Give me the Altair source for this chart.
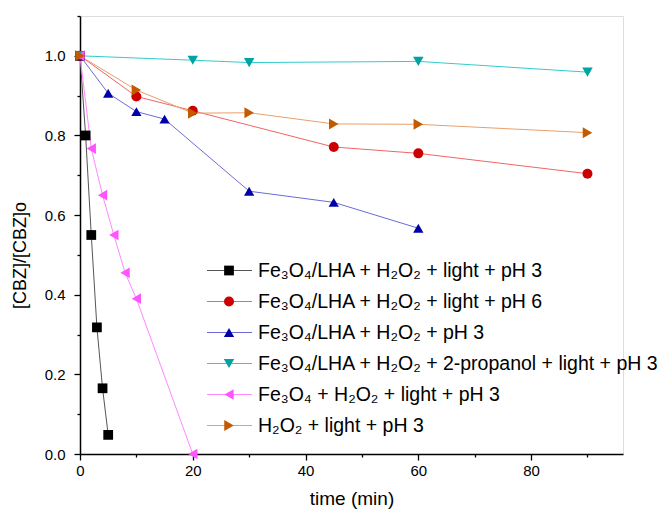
import altair as alt
import pandas as pd

names = ["s1", "s2", "s3", "s4", "s5", "s6"]
labels = [
    "Fe₃O₄/LHA + H₂O₂ + light + pH 3",
    "Fe₃O₄/LHA + H₂O₂ + light + pH 6",
    "Fe₃O₄/LHA + H₂O₂ + pH 3",
    "Fe₃O₄/LHA + H₂O₂ + 2-propanol + light + pH 3",
    "Fe₃O₄ + H₂O₂ + light + pH 3",
    "H₂O₂ + light + pH 3",
]

t_black = [0, 1, 2, 3, 4, 5]
y_black = [1.0, 0.80, 0.55, 0.318, 0.165, 0.048]
t_red = [0, 10, 20, 45, 60, 90]
y_red = [1.0, 0.898, 0.862, 0.771, 0.755, 0.704]
t_blue = [0, 5, 10, 15, 30, 45, 60]
y_blue = [1.0, 0.906, 0.860, 0.841, 0.660, 0.632, 0.567]
t_cyan = [0, 20, 30, 60, 90]
y_cyan = [1.0, 0.989, 0.983, 0.986, 0.959]
t_pink = [0, 2, 4, 6, 8, 10, 20]
y_pink = [1.0, 0.767, 0.650, 0.550, 0.455, 0.390, 0.0]
t_orange = [0, 10, 20, 30, 45, 60, 90]
y_orange = [1.0, 0.914, 0.856, 0.857, 0.829, 0.828, 0.807]

marker_colors = ["#000000", "#CC0000", "#0000A8", "#00A3A3", "#FF55FF", "#C45A00"]
line_colors = ["#555555", "#EE6666", "#6B6BD6", "#33CCCC", "#FF88FF", "#E8A06A"]
shapes = ["square", "circle", "triangle-up", "triangle-down", "triangle-left", "triangle-right"]
sizes = [95, 120, 165, 165, 165, 165]

x_major = [0, 20, 40, 60, 80]
x_minor = [10, 30, 50, 70, 90]
y_major = [0.0, 0.2, 0.4, 0.6, 0.8, 1.0]
y_minor = [0.1, 0.3, 0.5, 0.7, 0.9, 1.1]

series_t = [t_black, t_red, t_blue, t_cyan, t_pink, t_orange]
series_y = [y_black, y_red, y_blue, y_cyan, y_pink, y_orange]

rows = []
for n, ts, ys in zip(names, series_t, series_y):
    for t, v in zip(ts, ys):
        rows.append({"s": n, "t": t, "v": v})
df = pd.DataFrame(rows)

leg = pd.DataFrame({"s": names, "label": labels, "row": list(range(len(names)))})

FONT = "Liberation Sans"
x_scale = alt.Scale(domain=[0, 96.3], nice=False, zero=False)
y_scale = alt.Scale(domain=[0, 1.1], nice=False, zero=False)
line_scale = alt.Scale(domain=names, range=line_colors)
mark_scale = alt.Scale(domain=names, range=marker_colors)
shape_scale = alt.Scale(domain=names, range=shapes)
size_scale = alt.Scale(domain=names, range=sizes)

axis_common = dict(domainColor="black", domainWidth=1.5, tickColor="black", tickWidth=1.3,
                   labelFont=FONT, labelFontSize=15, labelColor="black",
                   titleFont=FONT, titleFontWeight="normal", titleColor="black", grid=False)

x_axis = alt.Axis(values=x_major, tickSize=6, labelPadding=3, title="time (min)",
                  titleFontSize=19, titleY=44, titleBaseline="middle", orient="bottom",
                  labelFlush=False, **axis_common)
y_axis = alt.Axis(values=y_major, format=".1f", tickSize=6, labelPadding=9,
                  title="[CBZ]/[CBZ]o", titleFontSize=18, titleX=-60, titleY=239,
                  titleAlign="center", titleBaseline="middle", titleAngle=270, orient="left",
                  **axis_common)

lines = alt.Chart(df).mark_line(strokeWidth=1).encode(
    x=alt.X("t:Q", scale=x_scale, axis=x_axis),
    y=alt.Y("v:Q", scale=y_scale, axis=y_axis),
    color=alt.Color("s:N", scale=line_scale, legend=None),
    order="t:Q",
)

points = alt.Chart(df).mark_point(filled=True, opacity=1).encode(
    x=alt.X("t:Q", scale=x_scale, axis=None),
    y=alt.Y("v:Q", scale=y_scale, axis=None),
    color=alt.Color("s:N", scale=mark_scale, legend=None),
    shape=alt.Shape("s:N", scale=shape_scale, legend=None),
    size=alt.Size("s:N", scale=size_scale, legend=None),
)

minor_x = alt.Axis(values=x_minor, tickSize=3, labels=False, title=None, domain=False,
                   orient="bottom", tickColor="black", tickWidth=1.3, grid=False)
minor_y = alt.Axis(values=y_minor, tickSize=3, labels=False, title=None, domain=False,
                   orient="left", tickColor="black", tickWidth=1.3, grid=False)
minor = alt.Chart(df).mark_point(opacity=0).encode(
    x=alt.X("t:Q", scale=x_scale, axis=minor_x),
    y=alt.Y("v:Q", scale=y_scale, axis=minor_y),
)

row_scale = alt.Scale(domain=[0, 5], range=[254.5, 409.5], nice=False, zero=False)

leg_rule = alt.Chart(leg).mark_rule(strokeWidth=1).encode(
    x=alt.value(127), x2=alt.value(172),
    y=alt.Y("row:Q", scale=row_scale, axis=None),
    color=alt.Color("s:N", scale=line_scale, legend=None),
)
leg_pts = alt.Chart(leg).mark_point(filled=True, opacity=1).encode(
    x=alt.value(149),
    y=alt.Y("row:Q", scale=row_scale, axis=None),
    color=alt.Color("s:N", scale=mark_scale, legend=None),
    shape=alt.Shape("s:N", scale=shape_scale, legend=None),
    size=alt.Size("s:N", scale=size_scale, legend=None),
)
leg_txt = alt.Chart(leg).mark_text(align="left", baseline="middle", font=FONT,
                                   fontSize=19.5, color="black").encode(
    x=alt.value(178),
    y=alt.Y("row:Q", scale=row_scale, axis=None),
    text="label:N",
)

chart = alt.layer(minor, lines, points, leg_rule, leg_pts, leg_txt).resolve_scale(
    y="independent", color="independent", shape="independent", size="independent"
).resolve_axis(x="independent", y="independent").properties(
    width=543, height=438,
    autosize=alt.AutoSizeParams(type="none"),
    padding={"left": 72, "top": 8, "right": 38, "bottom": 56},
).configure_view(stroke=None).configure(background="white")

chart.save("out.html", embed_options={"renderer": "svg", "actions": False})
